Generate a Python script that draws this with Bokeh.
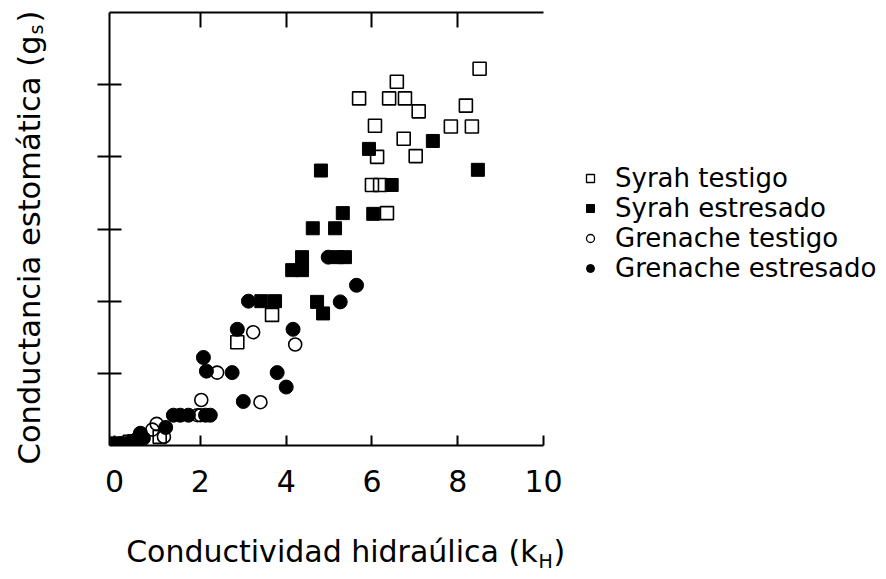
import math
from bokeh.plotting import figure
from bokeh.layouts import row, column
from bokeh.models import LinearAxis, FixedTicker, Range1d, Legend, LegendItem
from bokeh.core.properties import value
from bokeh.embed import file_html
from bokeh.resources import INLINE

# ---- data ----
syrah_testigo_x = [8.51, 6.58, 5.70, 6.40, 6.77, 7.09, 8.19, 6.07, 7.84, 8.33, 6.74, 7.02,
                   6.12, 6.00, 6.19, 6.35, 3.67, 2.86, 1.05, 0.35]
syrah_testigo_y = [5.22, 5.04, 4.81, 4.81, 4.81, 4.63, 4.71, 4.43, 4.42, 4.42, 4.25, 4.01,
                   4.00, 3.61, 3.61, 3.22, 1.81, 1.43, 0.12, 0.05]

syrah_estresado_x = [5.93, 7.42, 8.47, 4.81, 6.46, 6.03, 5.32, 4.62, 5.14, 4.37, 4.14, 4.37,
                     5.19, 5.37, 3.42, 3.74, 4.72, 4.86, 0.05, 0.25, 0.45]
syrah_estresado_y = [4.11, 4.22, 3.82, 3.81, 3.61, 3.21, 3.22, 3.01, 3.01, 2.61, 2.43, 2.43,
                     2.61, 2.61, 2.00, 2.00, 1.99, 1.83, 0.03, 0.03, 0.06]

grenache_testigo_x = [3.23, 4.21, 2.39, 3.40, 2.02, 1.93, 2.00, 0.88, 1.15, 0.98]
grenache_testigo_y = [1.57, 1.40, 1.01, 0.60, 0.63, 0.42, 0.42, 0.22, 0.12, 0.30]

grenache_estresado_x = [4.98, 5.64, 5.26, 3.12, 4.16, 2.86, 2.07, 2.14, 2.74, 3.79, 4.00, 3.00,
                        1.37, 1.53, 1.72, 2.12, 2.23, 0.60, 0.67, 1.19, 0.50]
grenache_estresado_y = [2.61, 2.22, 1.99, 2.00, 1.61, 1.61, 1.22, 1.03, 1.01, 1.01, 0.81, 0.61,
                        0.42, 0.42, 0.42, 0.42, 0.42, 0.17, 0.10, 0.25, 0.08]

x_ticks = [0, 2, 4, 6, 8, 10]
x_top_ticks = [2, 4, 6, 8]
y_ticks = [1, 2, 3, 4, 5]

series_labels = ["Syrah testigo", "Syrah estresado", "Grenache testigo", "Grenache estresado"]
x_title = "Conductividad hidraúlica (k"
x_title_sub = "H"
y_title = "Conductancia estomática (g"
y_title_sub = "s"

FONT = "DejaVu Sans"
TOTAL_W = 878
TOTAL_H = 571
TOP_H = 520      # height of main chart + legend row
YW = 70          # width of the y-title strip
MW = 505         # width of the main chart
LW = TOTAL_W - YW - MW
FR_TOP, FR_BOTTOM = 12, 445      # frame edges of the main chart (pixels)


def bare(width, height, xr, yr, top=0, bottom=0):
    f = figure(width=width, height=height, output_backend="svg", toolbar_location=None,
               x_range=Range1d(*xr), y_range=Range1d(*yr),
               x_axis_location=None, y_axis_location=None,
               min_border_left=0, min_border_right=0, min_border_top=top, min_border_bottom=bottom,
               background_fill_color="white", border_fill_color="white")
    f.grid.visible = False
    f.outline_line_color = None
    return f


# ---------------- main chart ----------------
p = figure(width=MW, height=TOP_H, output_backend="svg", toolbar_location=None,
           x_range=Range1d(-0.12, 10.0), y_range=Range1d(0, 6.0),
           x_axis_location=None, y_axis_location=None,
           min_border_left=109 - YW, min_border_right=YW + MW - 543,
           min_border_top=FR_TOP, min_border_bottom=TOP_H - FR_BOTTOM,
           background_fill_color="white", border_fill_color="white")
p.grid.visible = False
p.outline_line_color = None


def style_axis(ax):
    ax.axis_line_color = "black"
    ax.axis_line_width = 2
    ax.major_tick_line_color = "black"
    ax.major_tick_line_width = 2
    ax.minor_tick_line_color = None


xb = LinearAxis(ticker=FixedTicker(ticks=x_ticks), major_tick_in=10, major_tick_out=0,
                major_label_text_font=FONT, major_label_text_font_size="30px",
                major_label_text_color="black", major_label_standoff=24)
style_axis(xb)
p.add_layout(xb, "below")

xt = LinearAxis(ticker=FixedTicker(ticks=x_top_ticks), major_tick_in=15, major_tick_out=0,
                major_label_overrides={t: "" for t in x_top_ticks}, major_label_standoff=0)
style_axis(xt)
p.add_layout(xt, "above")

yl = LinearAxis(ticker=FixedTicker(ticks=y_ticks), major_tick_in=12, major_tick_out=12,
                major_label_overrides={t: "" for t in y_ticks}, major_label_standoff=0)
style_axis(yl)
p.add_layout(yl, "left")

# markers: open first, filled on top
p.scatter(syrah_testigo_x, syrah_testigo_y, marker="square", size=13,
          fill_color=None, line_color="black", line_width=1.6)
p.scatter(grenache_testigo_x, grenache_testigo_y, marker="circle", size=13,
          fill_color=None, line_color="black", line_width=1.6)
p.scatter(syrah_estresado_x, syrah_estresado_y, marker="square", size=13,
          fill_color="black", line_color="black")
p.scatter(grenache_estresado_x, grenache_estresado_y, marker="circle", size=14,
          fill_color="black", line_color="black")

# ---------------- legend strip ----------------
lg = bare(LW, TOP_H, (0, 1), (0, 1), top=FR_TOP, bottom=TOP_H - FR_BOTTOM)
nan = float("nan")
l1 = lg.scatter([nan], [nan], marker="square", size=10, fill_color=None, line_color="black", line_width=1.3)
l2 = lg.scatter([nan], [nan], marker="square", size=10, fill_color="black", line_color="black")
l3 = lg.scatter([nan], [nan], marker="circle", size=8, fill_color=None, line_color="black", line_width=1.3)
l4 = lg.scatter([nan], [nan], marker="circle", size=8, fill_color="black", line_color="black")
legend = Legend(items=[LegendItem(label=series_labels[0], renderers=[l1]),
                       LegendItem(label=series_labels[1], renderers=[l2]),
                       LegendItem(label=series_labels[2], renderers=[l3]),
                       LegendItem(label=series_labels[3], renderers=[l4])],
                location=(580 - YW - MW, FR_BOTTOM - 283), orientation="vertical",
                border_line_color=None, background_fill_alpha=0,
                label_text_font=FONT, label_text_font_size="26px", label_text_color="black",
                glyph_width=20, glyph_height=20, label_standoff=15, spacing=0,
                padding=0, margin=0, label_height=29)
lg.add_layout(legend, "center")

# ---------------- y-title strip (pixel-like coordinates, full height) ----------------
yf = bare(YW, TOTAL_H, (0, YW), (0, TOTAL_H))
yf.text(x=[29], y=[TOTAL_H - 35], text=[y_title], angle=math.pi / 2,
        text_font=value(FONT), text_font_size="30.5px", text_color="black",
        text_align="right", text_baseline="alphabetic")
yf.text(x=[35], y=[TOTAL_H - 34], text=[y_title_sub], angle=math.pi / 2,
        text_font=value(FONT), text_font_size="19px", text_color="black",
        text_align="left", text_baseline="alphabetic")
yf.text(x=[29], y=[TOTAL_H - 22], text=[")"], angle=math.pi / 2,
        text_font=value(FONT), text_font_size="30.5px", text_color="black",
        text_align="left", text_baseline="alphabetic")

# ---------------- x-title strip ----------------
XH = TOTAL_H - TOP_H
XW = MW + LW
xf = bare(XW, XH, (YW, TOTAL_W), (0, XH))
xf.text(x=[537], y=[TOTAL_H - 551], text=[x_title],
        text_font=value(FONT), text_font_size="30px", text_color="black",
        text_align="right", text_baseline="alphabetic")
xf.text(x=[538], y=[TOTAL_H - 560], text=[x_title_sub],
        text_font=value(FONT), text_font_size="19px", text_color="black",
        text_align="left", text_baseline="alphabetic")
xf.text(x=[553], y=[TOTAL_H - 551], text=[")"],
        text_font=value(FONT), text_font_size="30px", text_color="black",
        text_align="left", text_baseline="alphabetic")

layout = row(yf, column(row(p, lg, spacing=0), xf, spacing=0), spacing=0)
open("out.html", "w").write(file_html(layout, INLINE))
